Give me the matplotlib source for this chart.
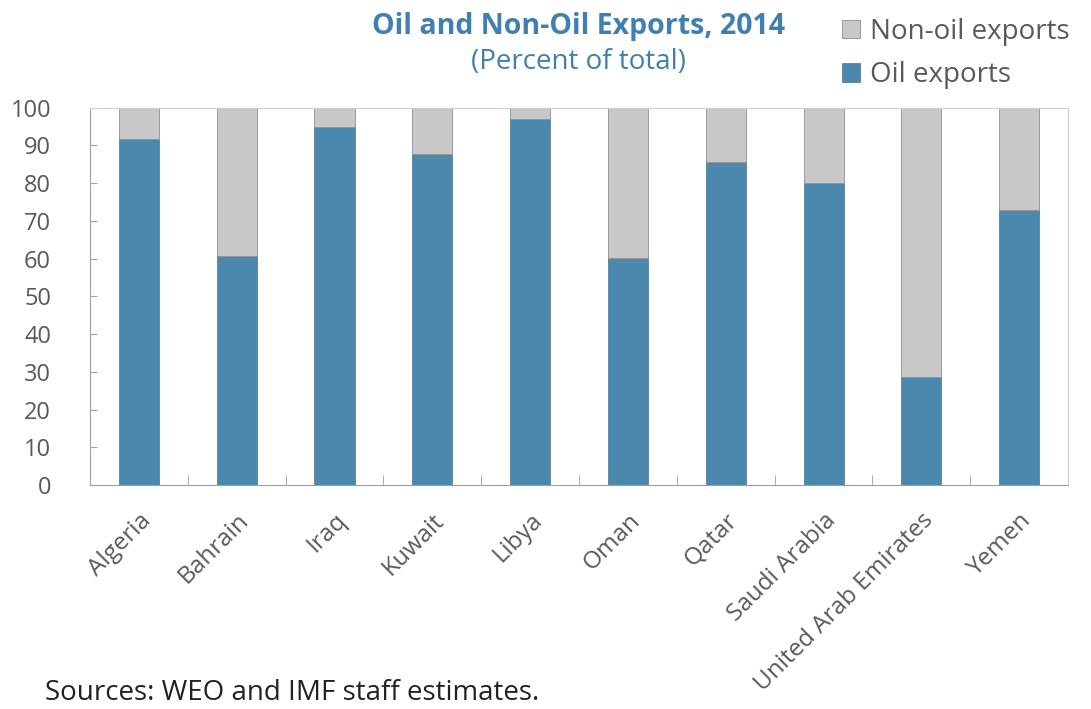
import numpy as np
import matplotlib
matplotlib.use('Agg')
import matplotlib.pyplot as plt
from matplotlib.patches import Patch

# data (percent of total exports, 2014)
countries = ['Algeria', 'Bahrain', 'Iraq', 'Kuwait', 'Libya', 'Oman',
             'Qatar', 'Saudi Arabia', 'United Arab Emirates', 'Yemen']
oil = [91.8, 60.8, 95.0, 87.8, 97.1, 60.3, 85.7, 80.1, 28.7, 72.9]
non_oil = [100 - v for v in oil]

plt.rcParams['font.family'] = ['Open Sans', 'DejaVu Sans']

blue = '#4a88ae'
grey = '#c9c7c7'
txt = '#595959'

fig = plt.figure(figsize=(10.91, 7.09), dpi=100)
ax = fig.add_axes([0.0825, 0.316, 0.8965, 0.532])

x = np.arange(len(countries))
ax.bar(x, oil, width=0.41, color=blue, edgecolor='#5b7f96', linewidth=0.6)
ax.bar(x, non_oil, bottom=oil, width=0.41, color=grey, edgecolor='#8f8f8f', linewidth=0.6)

ax.set_xlim(-0.5, len(countries) - 0.5)
ax.set_ylim(0, 100)
ax.set_yticks(range(0, 101, 10))
ax.set_xticks(x)
ax.set_xticklabels(countries, rotation=45, ha='right', rotation_mode='anchor')
ax.set_xticks(np.arange(0.5, len(countries) - 0.5, 1), minor=True)
ax.tick_params(axis='x', which='major', length=0, pad=17, labelsize=17.5, labelcolor=txt)
ax.tick_params(axis='x', which='minor', direction='in', length=7, color='#a0a0a0')
ax.tick_params(axis='y', direction='in', length=5, color='#a0a0a0', labelsize=17,
               labelcolor=txt, pad=28)
for lab in ax.get_yticklabels():
    lab.set_horizontalalignment('right')

for s in ['left', 'bottom']:
    ax.spines[s].set_color('#a0a0a0')
for s in ['top', 'right']:
    ax.spines[s].set_color('#d0d0d0')

fig.text(0.53, 0.962, 'Oil and Non-Oil Exports, 2014', ha='center', va='center',
         fontsize=20.5, fontweight='bold', color='#3f80b0')
fig.text(0.53, 0.913, '(Percent of total)', ha='center', va='center',
         fontsize=20, color='#3f80b0')

handles = [Patch(facecolor=grey, edgecolor='#8f8f8f', linewidth=0.6, label='Non-oil exports'),
           Patch(facecolor=blue, edgecolor='#5b7f96', linewidth=0.6, label='Oil exports')]
leg = fig.legend(handles=handles, loc='upper right', bbox_to_anchor=(1.003, 1.01), frameon=False,
                 fontsize=20, handlelength=0.65, handleheight=0.65, handletextpad=0.35,
                 labelspacing=0.55)
for t in leg.get_texts():
    t.set_color(txt)

fig.text(0.041, 0.012, 'Sources: WEO and IMF staff estimates.', fontsize=20, color='#222222')

fig.savefig('out.png', dpi=100)
